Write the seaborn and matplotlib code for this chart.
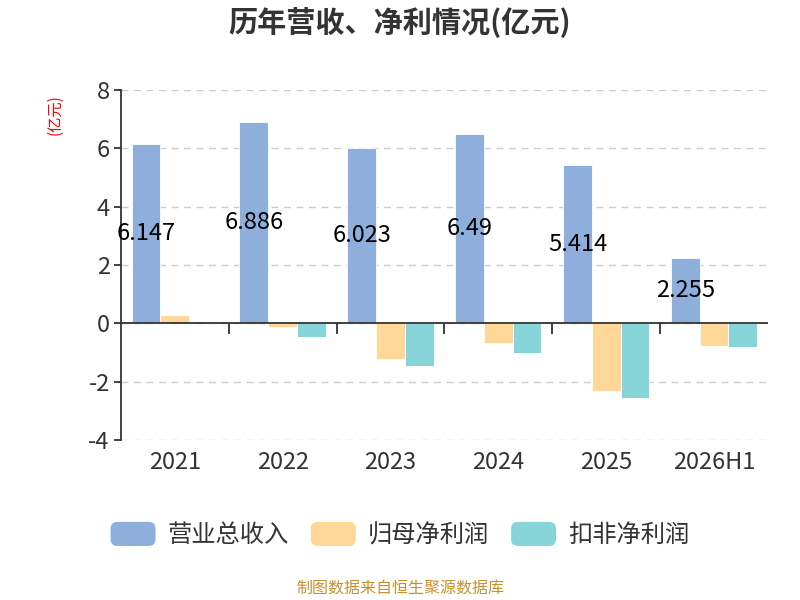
import matplotlib
matplotlib.use("Agg")
import matplotlib.pyplot as plt
import seaborn as sns
import pandas as pd
from matplotlib.patches import Patch, FancyBboxPatch
from matplotlib.legend_handler import HandlerPatch

years = ["2021", "2022", "2023", "2024", "2025", "2026H1"]
revenue = [6.147, 6.886, 6.023, 6.49, 5.414, 2.255]
net_profit = [0.27, -0.14, -1.22, -0.69, -2.32, -0.78]
deducted_profit = [0.04, -0.48, -1.47, -1.03, -2.56, -0.80]
series_names = ["营业总收入", "归母净利润", "扣非净利润"]
colors = ["#8eaedb", "#ffd799", "#87d5d9"]
y_ticks = [-4, -2, 0, 2, 4, 6, 8]


class RoundHandler(HandlerPatch):
    # rounded legend keys like the original
    def create_artists(self, legend, orig_handle, xdescent, ydescent,
                       width, height, fontsize, trans):
        p = FancyBboxPatch((-xdescent, -ydescent), width, height,
                           boxstyle="round,pad=0,rounding_size=5",
                           fc=orig_handle.get_facecolor(), ec="none",
                           transform=trans)
        return [p]


sns.set_theme(style="white")
plt.rcParams["font.family"] = ["Noto Sans CJK SC", "DejaVu Sans"]
plt.rcParams["axes.unicode_minus"] = False

df = pd.DataFrame({
    "year": years * 3,
    "value": revenue + net_profit + deducted_profit,
    "series": [series_names[0]] * 6 + [series_names[1]] * 6 + [series_names[2]] * 6,
})

fig = plt.figure(figsize=(8, 6), dpi=100)
ax = fig.add_axes([0.151, 0.2667, 0.809, 0.5833])

sns.barplot(data=df, x="year", y="value", hue="series", palette=colors,
            width=0.8, saturation=1, edgecolor="white", linewidth=0.6,
            legend=False, ax=ax)

# value labels on revenue bars, at half height
for p, v in zip(ax.containers[0], revenue):
    ax.text(p.get_x() + p.get_width() / 2, p.get_height() / 2, f"{v:g}",
            ha="center", va="center", fontsize=17, color="black")

ax.set_xlim(-0.5, 5.5)
ax.set_ylim(-4, 8)
ax.set_yticks(y_ticks)
ax.yaxis.grid(True, linestyle=(0, (5, 4)), color="#cccccc", linewidth=1)
ax.set_axisbelow(True)

for s in ["top", "right", "bottom"]:
    ax.spines[s].set_visible(False)
ax.spines["left"].set_color("#333333")
ax.spines["left"].set_linewidth(1.3)

ax.axhline(0, color="#333333", linewidth=1.3, zorder=3)
ax.vlines([0.5, 1.5, 2.5, 3.5, 4.5], -0.35, 0, color="#333333", linewidth=1.3)

ax.tick_params(axis="y", direction="out", length=5, width=1.3, color="#333333",
               labelsize=17, labelcolor="#333333", left=True, pad=3)
ax.tick_params(axis="x", length=0, labelsize=17, labelcolor="#333333", pad=8)
ax.set_xlabel("")
ax.set_ylabel("")

fig.text(0.5, 1 - 22 / 600, "历年营收、净利情况(亿元)", ha="center", va="center",
         fontsize=21, fontweight="bold", color="#333333")
fig.text(55 / 800, 1 - 115 / 600, "(亿元)", rotation=90, ha="center", va="center",
         fontsize=11, color="red")

handles = [Patch(facecolor=c) for c in colors]
fig.legend(handles, series_names, loc="center", bbox_to_anchor=(0.5, 1 - 535 / 600),
           ncol=3, frameon=False, fontsize=17.5, labelcolor="#333333",
           handlelength=1.85, handleheight=1.15, handletextpad=0.5,
           columnspacing=0.9, handler_map={Patch: RoundHandler()})

fig.text(0.5, 1 - 589 / 600, "制图数据来自恒生聚源数据库", ha="center", va="center",
         fontsize=11.5, color="#c8912a")

fig.savefig("out.png", dpi=100)
